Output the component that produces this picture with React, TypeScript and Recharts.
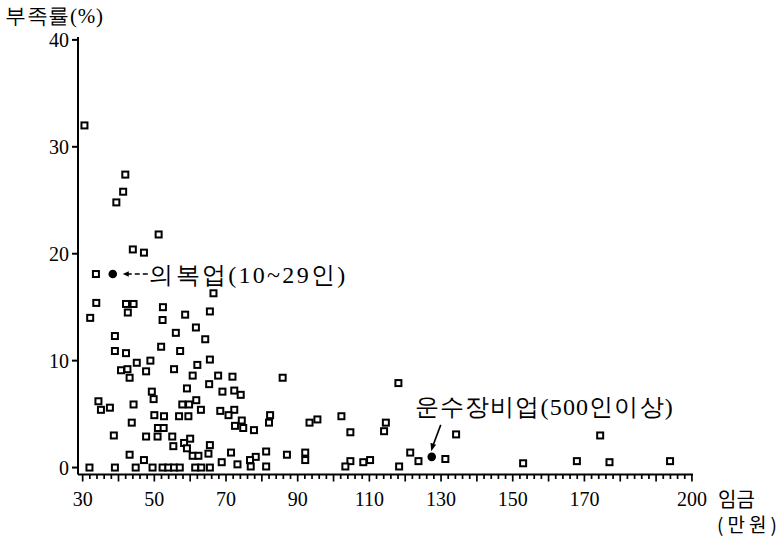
import React from 'react';
import { ScatterChart, Scatter, XAxis, YAxis } from 'recharts';

// 업종·규모별 임금(만원)과 인력 부족률(%)
const wage = [
  30.5, 41.9, 41.3, 39.4, 51.2, 44.0, 47.1, 33.7, 66.5,
  33.8, 32.1, 42.1, 44.2, 42.6, 52.4, 52.3, 58.6, 65.5, 61.6,
  39.0, 56.0, 64.2, 39.0, 42.1, 51.9, 57.2, 45.1, 48.9, 65.5, 62.0,
  40.7, 42.5, 47.7, 55.5, 43.1, 60.7, 67.8, 71.8, 85.8, 65.3, 118.1,
  49.3, 59.1, 69.0, 72.3, 74.1, 49.8, 61.7, 34.4,
  35.1, 37.6, 44.2, 57.8, 59.7, 63.0, 68.4, 72.3,
  50.0, 52.7, 56.9, 59.5, 70.7, 82.3, 102.2, 95.5,
  43.7, 74.4, 82.0, 93.3, 114.6,
  51.0, 52.6, 72.5, 74.8, 77.8, 104.7, 114.1, 134.2,
  38.7, 47.7, 50.9, 55.0, 60.0, 174.4,
  58.3, 55.3, 65.5, 59.1, 43.1, 65.1, 60.7, 62.3, 71.4, 81.2, 87.0, 92.1, 121.4,
  78.3, 47.1, 76.7, 68.8, 92.1, 104.7, 108.3, 110.2, 123.7, 131.2, 152.9, 167.9, 177.0, 193.9,
  73.2, 76.9, 81.2, 103.3, 118.3,
  31.9, 39.0, 44.8, 49.5, 52.3, 53.9, 55.5, 57.1, 61.4, 63.1, 65.5,
];

const shortage = [
  32.0, 27.4, 25.8, 24.8, 21.8, 20.4, 20.1, 18.1, 16.3,
  15.4, 14.0, 15.3, 15.3, 14.5, 15.0, 13.8, 14.3, 14.6, 13.1,
  12.3, 12.6, 12.0, 10.9, 10.7, 11.3, 10.9, 9.8, 10.0, 10.1, 9.6,
  9.1, 9.2, 9.0, 9.2, 8.4, 8.6, 8.6, 8.5, 8.4, 7.8, 7.9,
  7.1, 7.4, 7.1, 7.2, 6.8, 6.4, 6.3, 6.2,
  5.4, 5.6, 5.9, 5.9, 5.9, 5.4, 5.3, 5.4,
  4.9, 4.8, 4.8, 4.8, 4.9, 4.9, 4.8, 4.5,
  4.2, 4.4, 4.2, 4.2, 4.2,
  3.7, 3.7, 3.9, 3.7, 3.5, 3.3, 3.4, 3.1,
  3.0, 2.9, 2.9, 2.9, 2.7, 3.0,
  2.3, 2.0, 2.1, 1.8, 1.2, 1.3, 1.1, 1.1, 1.4, 1.5, 1.2, 1.4, 1.4,
  1.0, 0.7, 0.7, 0.5, 0.7, 0.6, 0.5, 0.7, 0.6, 0.8, 0.4, 0.6, 0.5, 0.6,
  0.3, 0.1, 0.1, 0.1, 0.1,
  0, 0, 0, 0, 0, 0, 0, 0, 0, 0, 0,
];

// 강조 표시한 두 업종
const highlightNames = ['의복업(10~29인)', '운수장비업(500인이상)'];
const highlightWage = [38.4, 127.4];
const highlightShortage = [18.1, 1.0];

const xTickLabels = [30, 50, 70, 90, 110, 130, 150, 170, 200];
const yTicks = [0, 10, 20, 30, 40];

const points = wage.map((w, i) => ({ wage: w, rate: shortage[i] }));
const highlights = highlightNames.map((name, i) => ({
  wage: highlightWage[i],
  rate: highlightShortage[i],
  name,
  side: i === 0 ? 'right' : 'above',
}));

// minor ticks every 2 (만원) along the wage axis
const xMinorTicks: number[] = [];
for (let v = 30; v <= 200; v += 2) xMinorTicks.push(v);

const SERIF = "'Liberation Serif', 'DejaVu Serif', serif";
const KR = "'Noto Sans CJK KR', sans-serif";

const SquareMark = (props: any) => {
  const { cx, cy } = props;
  if (cx == null || cy == null) return null;
  return (
    <rect x={cx - 3} y={cy - 3} width={6} height={6} fill="#fff" stroke="#000" strokeWidth={2} />
  );
};

const HighlightMark = (props: any) => {
  const { cx, cy, payload } = props;
  if (cx == null || cy == null) return null;
  if (payload.side === 'right') {
    return (
      <g>
        <circle cx={cx} cy={cy} r={4.3} fill="#000" />
        <path d={`M${cx + 10},${cy} L${cx + 16},${cy - 2.8} L${cx + 16},${cy + 2.8} Z`} fill="#000" />
        <line x1={cx + 15} y1={cy} x2={cx + 19} y2={cy} stroke="#000" strokeWidth={1.4} />
        <line x1={cx + 22} y1={cy} x2={cx + 35} y2={cy} stroke="#000" strokeWidth={1.4} strokeDasharray="5 3" />
        <text
          x={cx + 36.5}
          y={cy + 8.5}
          style={{ fontFamily: SERIF, fontSize: 24 }}
          fill="#000"
          textLength={196}
          lengthAdjust="spacing"
        >
          {payload.name}
        </text>
      </g>
    );
  }
  return (
    <g>
      <circle cx={cx} cy={cy} r={4.3} fill="#000" />
      <line x1={cx + 9} y1={cy - 32} x2={cx + 1.5} y2={cy - 12} stroke="#000" strokeWidth={1.6} />
      <path d={`M${cx - 0.5},${cy - 5.5} L${cx - 1.2},${cy - 14} L${cx + 4.3},${cy - 12} Z`} fill="#000" />
      <text
        x={cx - 17}
        y={cy - 41.5}
        style={{ fontFamily: SERIF, fontSize: 24 }}
        fill="#000"
        textLength={258}
        lengthAdjust="spacing"
      >
        {payload.name}
      </text>
    </g>
  );
};

const WageTick = (props: any) => {
  const { x, y, payload } = props;
  const v = payload.value;
  const major = v % 10 === 0;
  const labeled = xTickLabels.includes(v);
  return (
    <g>
      <line x1={x} y1={y} x2={x} y2={y + (major ? 7 : 4.5)} stroke="#000" strokeWidth={1.7} />
      {labeled && (
        <text x={x} y={y + 31} textAnchor="middle" style={{ fontFamily: SERIF, fontSize: 20 }} fill="#000">
          {v}
        </text>
      )}
    </g>
  );
};

const RateTick = (props: any) => {
  const { x, y, payload } = props;
  return (
    <text x={x} y={y + 7} textAnchor="end" style={{ fontFamily: SERIF, fontSize: 20 }} fill="#000">
      {payload.value}
    </text>
  );
};

const XTitle = (props: any) => {
  const vb = props.viewBox || {};
  const right = vb.x + vb.width;
  return (
    <g>
      <text x={right + 25} y={vb.y + 32} style={{ fontFamily: KR, fontSize: 20 }} fill="#000">
        임금
      </text>
      <text
        x={right + 24}
        y={vb.y + 57.5}
        style={{ fontFamily: KR, fontSize: 19 }}
        fill="#000"
        textLength={60}
        lengthAdjust="spacing"
      >
        (만원)
      </text>
    </g>
  );
};

const YTitle = (props: any) => {
  const vb = props.viewBox || {};
  return (
    <text
      x={vb.x - 13}
      y={vb.y - 14.5}
      style={{ fontFamily: SERIF, fontSize: 21 }}
      fill="#000"
      textLength={98}
      lengthAdjust="spacing"
    >
      부족률(%)
    </text>
  );
};

export default function App() {
  return (
    <div style={{ position: 'absolute', left: 0, top: 0, width: 783, height: 539, background: '#fff' }}>
      <ScatterChart width={783} height={539} margin={{ top: 37, right: 90, bottom: 24.5, left: 18 }}>
        <XAxis
          type="number"
          dataKey="wage"
          domain={[28.7, 200.3]}
          allowDataOverflow
          ticks={xMinorTicks}
          interval={0}
          tick={<WageTick />}
          tickLine={false}
          tickSize={0}
          tickMargin={0}
          height={40}
          axisLine={{ stroke: '#000', strokeWidth: 2 }}
          label={{ content: <XTitle /> }}
        />
        <YAxis
          type="number"
          dataKey="rate"
          domain={[-0.65, 40.27]}
          allowDataOverflow
          ticks={yTicks}
          interval={0}
          width={60}
          tickSize={6}
          tickMargin={3}
          tick={<RateTick />}
          tickLine={{ stroke: '#000', strokeWidth: 2 }}
          axisLine={{ stroke: '#000', strokeWidth: 2 }}
          label={{ content: <YTitle /> }}
        />
        <Scatter data={points} shape={SquareMark} isAnimationActive={false} />
        <Scatter data={highlights} shape={HighlightMark} isAnimationActive={false} />
      </ScatterChart>
    </div>
  );
}
